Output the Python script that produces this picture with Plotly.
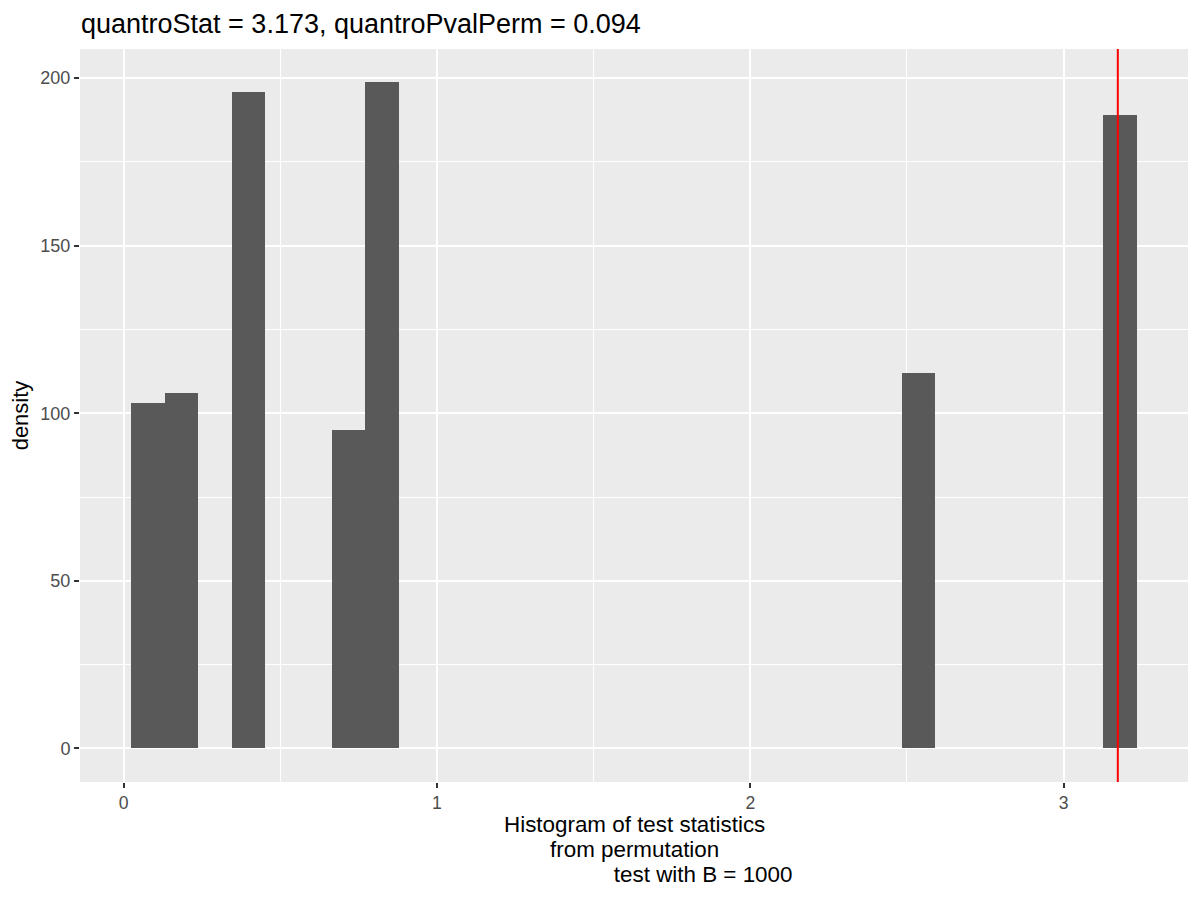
import plotly.graph_objects as go

# permutation histogram (bin centres)
bin_centers = [0.077, 0.184, 0.398, 0.718, 0.825, 2.537, 3.180]
density = [103, 106, 196, 95, 199, 112, 189]
bin_width = 0.107

quantro_stat = 3.173
quantro_pval_perm = 0.094
B = 1000

x_ticks = [0, 1, 2, 3]
y_ticks = [0, 50, 100, 150, 200]

FONT = "Liberation Sans"
TICK_COLOR = "#4D4D4D"

# page body adds an 8px offset, so the figure is a bit smaller than the window
W, H = 1192, 892

fig = go.Figure()

fig.add_trace(go.Bar(
    x=bin_centers,
    y=density,
    width=bin_width,
    marker=dict(color="#595959", line=dict(width=0)),
    showlegend=False,
))

# observed statistic
fig.add_shape(
    type="line", xref="x", yref="paper",
    x0=quantro_stat, x1=quantro_stat, y0=0, y1=1,
    line=dict(color="red", width=2), layer="above",
)

xlab_lines = [
    "Histogram of test statistics",
    "from permutation",
    "\u00a0" * 22 + "test with B = %d" % B,
]
for i, txt in enumerate(xlab_lines):
    fig.add_annotation(
        text=txt, xref="paper", yref="paper", x=0.5, y=0,
        xanchor="center", yanchor="middle", showarrow=False,
        yshift=-42 - 25 * i,
        font=dict(family=FONT, size=22.4, color="black"),
    )

fig.update_layout(
    width=W, height=H,
    paper_bgcolor="white", plot_bgcolor="#EBEBEB",
    margin=dict(l=72, r=12, t=41, b=118),
    font=dict(family=FONT, color="black"),
    title=dict(
        text="quantroStat = %s, quantroPvalPerm = %s" % (quantro_stat, quantro_pval_perm),
        x=73 / W, xanchor="left", xref="container",
        y=1 - 16 / H, yanchor="middle", yref="container",
        font=dict(family=FONT, size=27, color="black"),
    ),
    bargap=0,
)

fig.update_xaxes(
    range=[-0.1395, 3.397],
    tickvals=x_ticks, ticktext=[str(v) for v in x_ticks],
    ticks="outside", ticklen=5, tickwidth=1.5, tickcolor="#333333",
    tickfont=dict(family=FONT, size=17.6, color=TICK_COLOR),
    showgrid=True, gridcolor="white", gridwidth=2.2,
    minor=dict(tick0=0, dtick=0.5, showgrid=True, gridcolor="white", gridwidth=1.1, ticks=""),
    zeroline=False, showline=False,
)

fig.update_yaxes(
    range=[-10.0, 208.7],
    tickvals=y_ticks, ticktext=[str(v) for v in y_ticks],
    ticks="outside", ticklen=5, tickwidth=1.5, tickcolor="#333333",
    tickfont=dict(family=FONT, size=18, color=TICK_COLOR),
    showgrid=True, gridcolor="white", gridwidth=2.2,
    minor=dict(tick0=0, dtick=25, showgrid=True, gridcolor="white", gridwidth=1.1, ticks=""),
    zeroline=False, showline=False,
    title=dict(text="density", font=dict(family=FONT, size=22, color="black"), standoff=6),
)

fig.write_html("out.html")
